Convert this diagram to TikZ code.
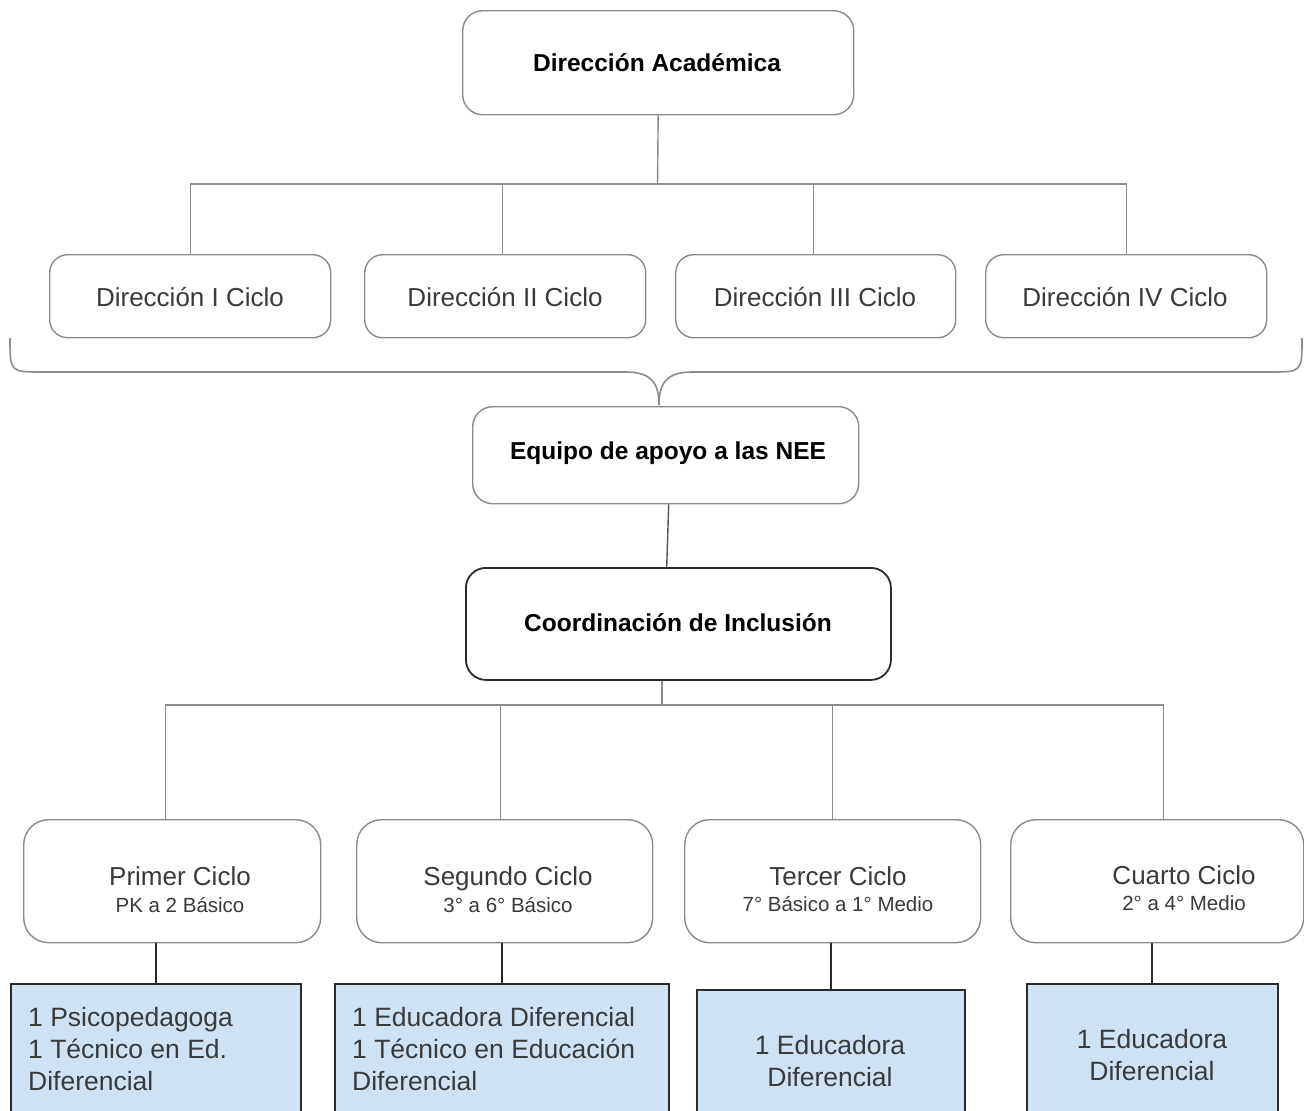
\documentclass[tikz,border=0pt]{standalone}
\usepackage{fontspec}
\setmainfont{Liberation Sans}
\definecolor{boxgray}{HTML}{8A8A8A}
\definecolor{linegray}{HTML}{8C8C8C}
\definecolor{darkline}{HTML}{2B2B2B}
\definecolor{txtgray}{HTML}{3A3A3A}
\definecolor{bluefill}{HTML}{CFE2F3}
\begin{document}
\begin{tikzpicture}[x=1pt,y=-1pt,
  gbox/.style={draw=boxgray, line width=1.4pt, anchor=north west, inner sep=0pt, fill=white},
  dbox/.style={draw=darkline, line width=1.8pt, anchor=north west, inner sep=0pt, fill=white},
  bbox/.style={draw=darkline, line width=1.6pt, anchor=north west, inner sep=0pt, fill=bluefill},
  hbold/.style={font=\fontsize{24.5}{29}\selectfont\bfseries, anchor=base, text=black, inner sep=0pt},
  hreg/.style={font=\fontsize{26}{31}\selectfont, anchor=base, text=txtgray, inner sep=0pt},
  hsub/.style={font=\fontsize{20.5}{24}\selectfont, anchor=base, text=txtgray, inner sep=0pt},
  bluel/.style={font=\fontsize{26.5}{32}\selectfont, anchor=base west, text=txtgray, inner sep=0pt},
  bluec/.style={font=\fontsize{26.5}{32}\selectfont, anchor=base, text=txtgray, inner sep=0pt},
  gline/.style={draw=linegray, line width=1.4pt},
  dline/.style={draw=darkline, line width=1.8pt},
  mline/.style={draw=darkline!80!white, line width=1.4pt}
]
\useasboundingbox (0,0) rectangle (1304,1111);
\clip (0,0) rectangle (1304,1111);
\fill[white] (0,0) rectangle (1304,1111);

% ---- top level
\node[gbox, rounded corners=20pt, minimum width=391pt, minimum height=104pt] (acad) at (462,10) {};
\node[hbold] (acadt) at (657,71) {Dirección Académica};

\node[gbox, rounded corners=18pt, minimum width=281pt, minimum height=83pt] (d1) at (49,254) {};
\node[gbox, rounded corners=18pt, minimum width=281pt, minimum height=83pt] (d2) at (364,254) {};
\node[gbox, rounded corners=18pt, minimum width=280pt, minimum height=83pt] (d3) at (675,254) {};
\node[gbox, rounded corners=18pt, minimum width=281pt, minimum height=83pt] (d4) at (985,254) {};
\node[hreg] (d1t) at (190,306) {Dirección I Ciclo};
\node[hreg] (d2t) at (505,306) {Dirección II Ciclo};
\node[hreg] (d3t) at (815,306) {Dirección III Ciclo};
\node[hreg] (d4t) at (1125,306) {Dirección IV Ciclo};

\coordinate (busA) at (657.5,184);
\draw[gline] (acad.south) -- (busA);
\draw[gline] (d1.north) -- (d1.north |- busA) -- (d4.north |- busA) -- (d4.north);
\draw[gline] ([xshift=-2.5pt]d2.north) -- ([xshift=-2.5pt]d2.north |- busA);
\draw[gline] ([xshift=-2pt]d3.north) -- ([xshift=-2pt]d3.north |- busA);

% ---- brace
\coordinate (brL) at (10,338);
\coordinate (brtip) at (659,405);
\coordinate (brR) at (1302,338);
\draw[gline, line width=1.6pt] (brL) .. controls (10,372) .. (42,372) -- (626,372)
  .. controls (652,372) and (659,384) .. (brtip)
  .. controls (659,384) and (666,372) .. (692,372) -- (1270,372)
  .. controls (1302,372) .. (brR);

% ---- support team and coordination
\node[gbox, rounded corners=20pt, minimum width=386pt, minimum height=97pt] (equipo) at (472,406) {};
\node[hbold] (equipot) at (668,459) {Equipo de apoyo a las NEE};

\node[dbox, rounded corners=20pt, minimum width=425pt, minimum height=112pt] (coord) at (465,567) {};
\node[hbold] (coordt) at (678,631) {Coordinación de Inclusión};

\draw[mline] ([xshift=3pt]equipo.south) -- ([xshift=1pt]equipo.south |- coord.north);

% ---- cycles
\node[gbox, rounded corners=25pt, minimum width=297pt, minimum height=123pt] (c1) at (23,819) {};
\node[gbox, rounded corners=25pt, minimum width=296pt, minimum height=123pt] (c2) at (356,819) {};
\node[gbox, rounded corners=25pt, minimum width=296pt, minimum height=123pt] (c3) at (684,819) {};
\node[gbox, rounded corners=25pt, minimum width=293pt, minimum height=123pt] (c4) at (1010,819) {};

\node[hreg] (c1t) at (180,885) {Primer Ciclo};
\node[hsub] (c1s) at (180,912) {PK a 2 Básico};
\node[hreg] (c2t) at (508,885) {Segundo Ciclo};
\node[hsub] (c2s) at (508,912) {3° a 6° Básico};
\node[hreg] (c3t) at (838,885) {Tercer Ciclo};
\node[hsub] (c3s) at (838,911) {7° Básico a 1° Medio};
\node[hreg] (c4t) at (1184,884) {Cuarto Ciclo};
\node[hsub] (c4s) at (1184,910) {2° a 4° Medio};

\coordinate (busB) at (662,705);
\draw[gline] (busB |- coord.south) -- (busB);
\draw[gline] ([xshift=-6.5pt]c1.north) -- ([xshift=-6.5pt]c1.north |- busB)
  -- ([xshift=6.5pt]c4.north |- busB) -- ([xshift=6.5pt]c4.north);
\draw[gline] ([xshift=-4pt]c2.north) -- ([xshift=-4pt]c2.north |- busB);
\draw[gline] (c3.north) -- (c3.north |- busB);

% ---- staff boxes
\node[bbox, minimum width=290pt, minimum height=150pt] (b1) at (10,983) {};
\node[bbox, minimum width=334pt, minimum height=150pt] (b2) at (334,983) {};
\node[bbox, minimum width=268pt, minimum height=150pt] (b3) at (696,989) {};
\node[bbox, minimum width=251pt, minimum height=150pt] (b4) at (1026,983) {};

\draw[dline] (b1.north |- c1.south) -- (b1.north);
\draw[dline] (b2.north |- c2.south) -- (b2.north);
\draw[dline] (b3.north |- c3.south) -- (b3.north);
\draw[dline] (b4.north |- c4.south) -- (b4.north);

\node[bluel] (b1a) at (28,1026) {1 Psicopedagoga};
\node[bluel] (b1b) at (28,1058) {1 Técnico en Ed.};
\node[bluel] (b1c) at (28,1090) {Diferencial};
\node[bluel] (b2a) at (352,1026) {1 Educadora Diferencial};
\node[bluel] (b2b) at (352,1058) {1 Técnico en Educación};
\node[bluel] (b2c) at (352,1090) {Diferencial};
\node[bluec] (b3a) at (830,1054) {1 Educadora};
\node[bluec] (b3b) at (830,1086) {Diferencial};
\node[bluec] (b4a) at (1152,1048) {1 Educadora};
\node[bluec] (b4b) at (1152,1080) {Diferencial};
\end{tikzpicture}
\end{document}
